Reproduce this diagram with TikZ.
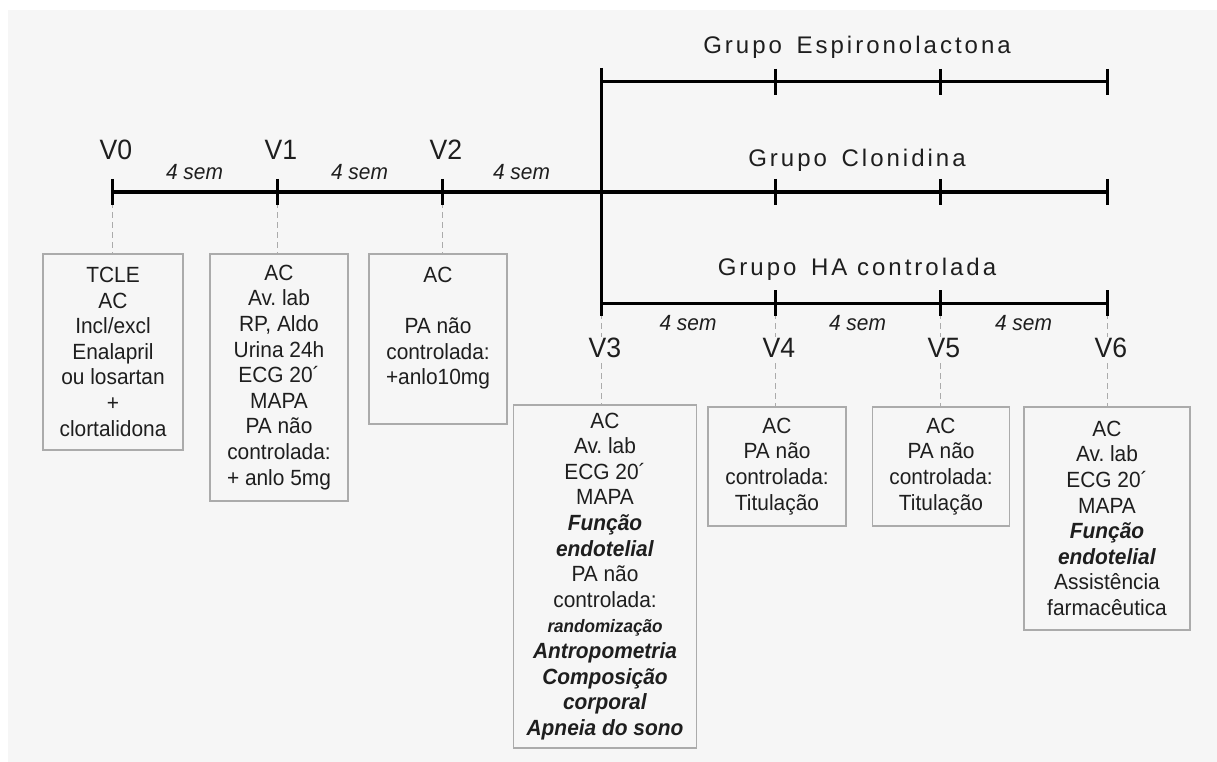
\documentclass[tikz,border=0pt]{standalone}
\usepackage{fontspec}
\setmainfont{Liberation Sans}
\newfontfamily\boxfont[FakeStretch=0.95]{Liberation Sans}
\newfontfamily\grpfont[LetterSpace=12.5]{Liberation Sans}
\usetikzlibrary{positioning}
\definecolor{bgcol}{HTML}{F6F6F6}
\definecolor{boxcol}{HTML}{ABABAB}
\definecolor{txtcol}{HTML}{1E1E1E}
\tikzstyle{axis} = [line width=3pt, color=black]
\tikzstyle{dashline} = [line width=1pt, color=boxcol, dash pattern=on 6pt off 4pt]
\tikzstyle{visit} = [draw=boxcol, line width=1.5pt, anchor=north, align=center, inner sep=2pt, text=txtcol, font=\boxfont\fontsize{22}{25.6}\selectfont]
\tikzstyle{vlabel} = [text=txtcol, inner sep=1pt, font=\boxfont\fontsize{28}{32}\selectfont]
\tikzstyle{sem} = [text=txtcol, inner sep=0pt, font=\boxfont\fontsize{22}{25}\selectfont\itshape]
\tikzstyle{grp} = [text=txtcol, inner sep=0pt, font=\grpfont\fontsize{24}{28}\selectfont]
\newcommand{\bi}[1]{\textbf{\textit{#1}}}

\begin{document}
\begin{tikzpicture}[x=1pt,y=-1pt]
\useasboundingbox (0,0) rectangle (1217,762);
\fill[bgcol] (8,10) rectangle (1217,762);

% visitas antes da randomizacao
\foreach \x/\v [count=\n from 0] in {112/V0,277/V1,442/V2}
{
\coordinate (t\n) at (\x,192);
\node[vlabel] (lab\n) at (\x+4,150) {\v};
}
% tres grupos
\foreach \x [count=\k from 3] in {601,775,940,1107}
{
\coordinate (e\k) at (\x,82);
\coordinate (c\k) at (\x,192);
\coordinate (t\k) at (\x,303);
}

\node[visit,minimum width=140,minimum height=196] (b0) at (113,253)
{TCLE\\AC\\Incl/excl\\Enalapril\\ou losartan\\+\\clortalidona};
\node[visit,minimum width=138,minimum height=247] (b1) at (279,253)
{AC\\Av.~lab\\RP, Aldo\\Urina 24h\\ECG 20´\\MAPA\\PA não\\controlada:\\+ anlo 5mg};
\node[visit,minimum width=138,minimum height=170] (b2) at (438,253)
{AC\\\mbox{}\\PA não\\controlada:\\+anlo10mg\\\mbox{}};
\node[visit,minimum width=183,minimum height=343] (b3) at (605,404)
{AC\\Av.~lab\\ECG 20´\\MAPA\\\bi{Função}\\\bi{endotelial}\\PA não\\controlada:\\{\fontsize{18}{20}\selectfont\bi{randomização}}\\\bi{Antropometria}\\\bi{Composição}\\\bi{corporal}\\\bi{Apneia do sono}};
\node[visit,minimum width=138,minimum height=119] (b4) at (777,406)
{AC\\PA não\\controlada:\\Titulação};
\node[visit,minimum width=137,minimum height=119] (b5) at (941,406)
{AC\\PA não\\controlada:\\Titulação};
\node[visit,minimum width=166,minimum height=223] (b6) at (1107,406)
{AC\\Av.~lab\\ECG 20´\\MAPA\\\bi{Função}\\\bi{endotelial}\\Assistência\\farmacêutica};

\foreach \n in {0,...,6}
\draw[dashline] (t\n) -- (t\n |- b\n.north);

\draw[axis] (t0) -- node[sem,yshift=20pt]{4 sem} (t1) -- node[sem,yshift=20pt]{4 sem} (t2) -- node[sem,yshift=20pt]{4 sem} (c3) -- (c6);
\draw[axis] (e3) -- (e6);
\draw[axis] (t3) -- node[sem,yshift=-20pt]{4 sem} (t4) -- node[sem,yshift=-20pt]{4 sem} (t5) -- node[sem,yshift=-20pt]{4 sem} (t6);
\draw[axis] ([yshift=14pt]e3) -- ([yshift=-13pt]t3);
\foreach \p in {t0,t1,t2,e4,e5,e6,c4,c5,c6,t4,t5,t6}
\draw[axis] ([yshift=13pt]\p) -- ([yshift=-13pt]\p);

\foreach \x/\v [count=\k from 3] in {601/V3,775/V4,940/V5,1107/V6}
\node[vlabel,fill=bgcol] (lab\k) at (\x+4,348) {\v};

\node[grp] (gE) at (857,47) {Grupo\hspace{5pt} Espironolactona};
\node[grp] (gC) at (857,160) {Grupo\hspace{5pt} Clonidina};
\node[grp] (gH) at (857,269) {Grupo\hspace{5pt} HA controlada};
\end{tikzpicture}
\end{document}
